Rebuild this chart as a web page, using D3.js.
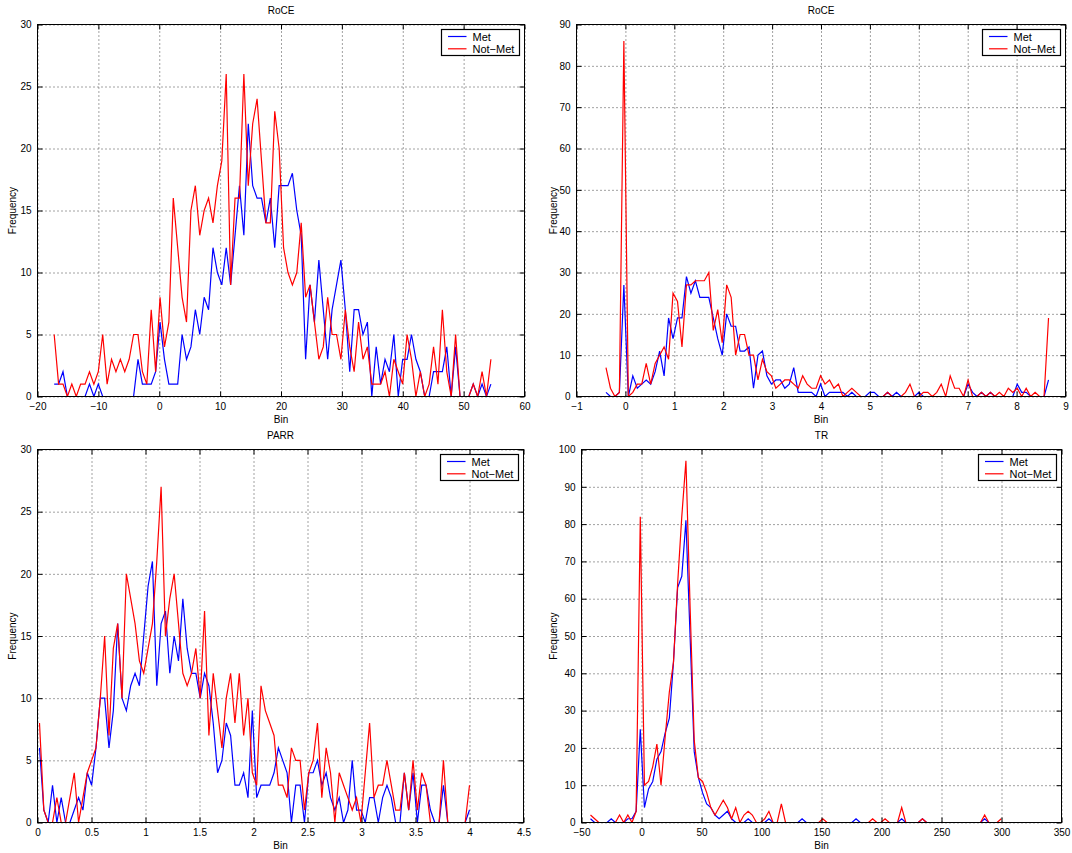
<!DOCTYPE html>
<html>
<head>
<meta charset="utf-8">
<script src="https://cdn.jsdelivr.net/npm/d3@7"></script>
<style>
  body { margin: 0; background: #fff; }
  svg text { font-family: "Liberation Sans", Arial, Helvetica, sans-serif; fill: #000; }
</style>
</head>
<body>
<svg id="fig" width="1072" height="853"></svg>
<script>
// ---- data: histogram counts per bin (100 bins each) ----
const seriesNames = ["Met", "Not\u2212Met"];
const seriesColors = ["#0000ff", "#ff0000"];

// RoCE (linear scale)
const roceBinRange = [-17.26, 54.48];
const roceMet = [1,1,2,0,0,0,0,0,1,0, 1,0,0,0,0,0,0,0,0,3, 1,1,1,2,6,3,1,1,1,5,
  3,4,7,5,8,7,12,10,9,12, 9,13,17,13,22,17,16,16,14,16, 12,17,17,17,18,15,13,3,9,6,
  11,7,3,7,9,11,7,2,7,7, 5,6,0,4,1,3,2,5,0,3, 3,5,3,2,0,0,2,2,2,4, 0,4,0,0,0,1,0,1,0,1];
const roceNotMet = [5,1,1,0,1,0,1,1,2,1, 2,5,1,3,2,3,2,3,5,5, 2,1,7,2,8,4,6,16,12,8,
  6,15,17,13,15,16,14,17,19,26, 9,16,16,26,17,22,24,19,14,14, 23,20,12,10,9,10,14,8,9,6,
  3,4,8,5,5,3,7,4,2,6, 3,4,1,1,1,2,0,3,2,1, 5,3,0,2,0,1,4,1,7,2, 0,5,0,0,0,1,0,2,0,3];

// RoCE (second panel)
const roce2BinRange = [-0.397, 8.653];
const roce2Met = [1,0,0,1,27,0,5,2,3,4, 3,6,11,5,19,14,19,19,29,25, 28,24,24,24,19,14,10,20,17,17,
  11,11,12,2,10,11,5,3,4,4, 2,3,7,1,1,1,1,0,3,0, 1,1,1,1,0,1,0,0,0,1,
  1,0,0,1,0,1,0,0,0,0, 1,0,0,0,0,0,0,0,0,0, 0,3,1,0,1,0,1,0,0,0, 0,0,3,1,1,0,0,0,0,4];
const roce2NotMet = [7,2,0,1,86,0,1,3,3,8, 3,8,10,12,9,25,23,12,27,27, 28,28,28,30,16,21,13,27,24,10,
  15,15,10,10,4,9,6,5,2,3, 4,4,3,2,5,3,2,2,5,3, 4,2,3,0,1,2,1,0,0,0,
  0,0,0,1,0,0,0,1,3,0, 0,1,1,0,1,3,0,5,2,2, 0,4,0,0,1,0,1,0,1,0, 2,1,2,0,2,0,1,0,0,19];

// PARR
const parrBinRange = [0.0185, 4.0];
const parrMet = [6,1,0,3,0,2,0,0,1,2, 1,4,3,6,10,10,6,9,16,10, 9,11,12,11,15,19,21,11,16,17,
  12,15,13,18,14,12,12,10,12,11, 8,4,5,8,7,3,3,4,2,9, 2,3,3,3,4,6,5,4,0,3,
  3,0,4,4,5,3,4,2,1,2, 0,1,5,1,1,0,2,2,0,2, 3,2,0,0,4,1,4,0,3,3, 1,0,0,3,0,0,0,0,0,1];
const parrNotMet = [8,1,0,0,2,0,0,2,4,0, 2,4,5,6,10,15,7,14,16,10, 20,18,16,13,12,14,16,21,27,15,
  18,20,16,12,11,12,14,10,17,7, 12,9,6,10,12,8,12,7,10,4, 3,11,9,8,7,3,3,2,6,5,
  5,1,4,5,8,2,6,4,0,4, 3,2,1,2,0,4,8,2,3,3, 5,3,1,1,4,1,5,1,4,3, 0,0,0,5,0,0,0,0,0,3];

// TR
const trBinRange = [-42.5, 299.8];
const trMet = [1,0,0,0,0,1,0,0,0,1, 1,3,25,4,9,11,17,19,24,28, 43,63,66,81,50,19,12,8,5,4,
  2,1,2,3,1,0,0,0,1,0, 0,0,0,1,0,0,0,0,0,0, 0,1,0,0,0,0,0,0,0,0,
  0,0,0,0,1,0,0,0,0,0, 0,0,0,0,0,1,0,0,0,0, 1,0,0,0,0,0,0,0,0,0, 0,0,0,0,0,1,0,0,0,0];
const trNotMet = [2,1,0,0,0,0,0,2,0,2, 0,3,82,10,11,15,21,10,23,35, 43,64,82,97,58,22,12,11,8,4,
  2,4,6,4,1,4,0,2,3,2, 0,0,1,3,0,0,5,0,0,0, 0,0,0,0,0,0,1,0,0,0,
  0,0,0,0,0,0,0,0,1,0, 0,1,0,0,0,4,0,0,0,0, 1,0,0,0,0,0,0,0,0,0, 0,0,0,0,0,2,0,0,0,1];

// ---- axis tick values ----
const roceXTicks = [-20, -10, 0, 10, 20, 30, 40, 50, 60];
const roceYTicks = [0, 5, 10, 15, 20, 25, 30];
const roce2XTicks = [-1, 0, 1, 2, 3, 4, 5, 6, 7, 8, 9];
const roce2YTicks = [0, 10, 20, 30, 40, 50, 60, 70, 80, 90];
const parrXTicks = [0, 0.5, 1, 1.5, 2, 2.5, 3, 3.5, 4, 4.5];
const parrYTicks = [0, 5, 10, 15, 20, 25, 30];
const trXTicks = [-50, 0, 50, 100, 150, 200, 250, 300, 350];
const trYTicks = [0, 10, 20, 30, 40, 50, 60, 70, 80, 90, 100];

const panels = [
  { title: "RoCE", range: roceBinRange, series: [roceMet, roceNotMet],
    xDomain: [-20, 60], xTicks: roceXTicks, yDomain: [0, 30], yTicks: roceYTicks,
    box: { x0: 37.5, x1: 524.5, y0: 24.5, y1: 396.5 }, ylabX: 15.5 },
  { title: "RoCE", range: roce2BinRange, series: [roce2Met, roce2NotMet],
    xDomain: [-1, 9], xTicks: roce2XTicks, yDomain: [0, 90], yTicks: roce2YTicks,
    box: { x0: 576.5, x1: 1065.5, y0: 24.5, y1: 396.5 }, ylabX: 556.5 },
  { title: "PARR", range: parrBinRange, series: [parrMet, parrNotMet],
    xDomain: [0, 4.5], xTicks: parrXTicks, yDomain: [0, 30], yTicks: parrYTicks,
    box: { x0: 37.5, x1: 523.5, y0: 449.5, y1: 822.5 }, ylabX: 15.5 },
  { title: "TR", range: trBinRange, series: [trMet, trNotMet],
    xDomain: [-50, 350], xTicks: trXTicks, yDomain: [0, 100], yTicks: trYTicks,
    box: { x0: 581.5, x1: 1061.5, y0: 449.5, y1: 822.5 }, ylabX: 556.5 }
];

const svg = d3.select("#fig");
svg.append("rect").attr("width", 1072).attr("height", 853).attr("fill", "#fff");

const tickFmt = d => d3.format("")(d).replace("-", "\u2212");

panels.forEach((p, pi) => {
  const b = p.box;
  const W = b.x1 - b.x0, H = b.y1 - b.y0;
  const x = d3.scaleLinear().domain(p.xDomain).range([b.x0, b.x1]);
  const y = d3.scaleLinear().domain(p.yDomain).range([b.y1, b.y0]);
  const g = svg.append("g");

  g.append("rect").attr("x", b.x0).attr("y", b.y0).attr("width", W).attr("height", H)
    .attr("fill", "#fff");

  // dotted grid
  const gx = g.append("g").attr("transform", `translate(0,${b.y1})`)
    .call(d3.axisBottom(x).tickValues(p.xTicks).tickSize(-H).tickFormat(""));
  const gy = g.append("g").attr("transform", `translate(${b.x0},0)`)
    .call(d3.axisLeft(y).tickValues(p.yTicks).tickSize(-W).tickFormat(""));
  [gx, gy].forEach(a => {
    a.select(".domain").remove();
    a.selectAll("line").attr("stroke", "#444").attr("stroke-width", 1)
      .attr("stroke-dasharray", "1,3");
  });

  // data lines
  const clipId = "clip" + pi;
  g.append("clipPath").attr("id", clipId).append("rect")
    .attr("x", b.x0).attr("y", b.y0 - 2).attr("width", W).attr("height", H + 2);
  const n = p.series[0].length;
  const centers = d3.range(n).map(i => p.range[0] + i * (p.range[1] - p.range[0]) / (n - 1));
  const line = d3.line().x((d, i) => x(centers[i])).y(d => y(d));
  p.series.forEach((s, si) => {
    g.append("path").datum(s).attr("d", line).attr("fill", "none")
      .attr("stroke", seriesColors[si]).attr("stroke-width", 1.2)
      .attr("stroke-linejoin", "miter").attr("clip-path", `url(#${clipId})`);
  });

  // inward ticks on all four sides, labels bottom and left
  const ax = [
    g.append("g").attr("transform", `translate(0,${b.y1})`)
      .call(d3.axisBottom(x).tickValues(p.xTicks).tickSize(-5).tickPadding(6.5).tickFormat(tickFmt)),
    g.append("g").attr("transform", `translate(0,${b.y0})`)
      .call(d3.axisTop(x).tickValues(p.xTicks).tickSize(-5).tickFormat("")),
    g.append("g").attr("transform", `translate(${b.x0},0)`)
      .call(d3.axisLeft(y).tickValues(p.yTicks).tickSize(-5).tickPadding(6).tickFormat(tickFmt)),
    g.append("g").attr("transform", `translate(${b.x1},0)`)
      .call(d3.axisRight(y).tickValues(p.yTicks).tickSize(-5).tickFormat(""))
  ];
  ax.forEach(a => {
    a.select(".domain").remove();
    a.selectAll("line").attr("stroke", "#000");
    a.selectAll("text").attr("font-size", 10).attr("font-family", "Liberation Sans, Arial, sans-serif");
  });

  // frame
  g.append("rect").attr("x", b.x0).attr("y", b.y0).attr("width", W).attr("height", H)
    .attr("fill", "none").attr("stroke", "#000").attr("stroke-width", 1);

  // texts
  g.append("text").attr("x", (b.x0 + b.x1) / 2).attr("y", b.y0 - 11)
    .attr("text-anchor", "middle").attr("font-size", 10).text(p.title);
  g.append("text").attr("x", (b.x0 + b.x1) / 2).attr("y", b.y1 + 26)
    .attr("text-anchor", "middle").attr("font-size", 10).text("Bin");
  g.append("text").attr("transform", `translate(${p.ylabX},${(b.y0 + b.y1) / 2}) rotate(-90)`)
    .attr("text-anchor", "middle").attr("font-size", 10).text("Frequency");

  // legend
  const lw = 78, lh = 26;
  const lx = b.x1 - 5 - lw, ly = b.y0 + 5;
  const lg = g.append("g").attr("transform", `translate(${lx},${ly})`);
  lg.append("rect").attr("width", lw).attr("height", lh).attr("fill", "#fff")
    .attr("stroke", "#000").attr("stroke-width", 1.2);
  seriesNames.forEach((name, si) => {
    const ry = 7 + si * 12.3;
    lg.append("line").attr("x1", 6.5).attr("x2", 25).attr("y1", ry).attr("y2", ry)
      .attr("stroke", seriesColors[si]).attr("stroke-width", 1.2);
    lg.append("text").attr("x", 31).attr("y", ry + 4).attr("font-size", 11).text(name);
  });
});
</script>
</body>
</html>
